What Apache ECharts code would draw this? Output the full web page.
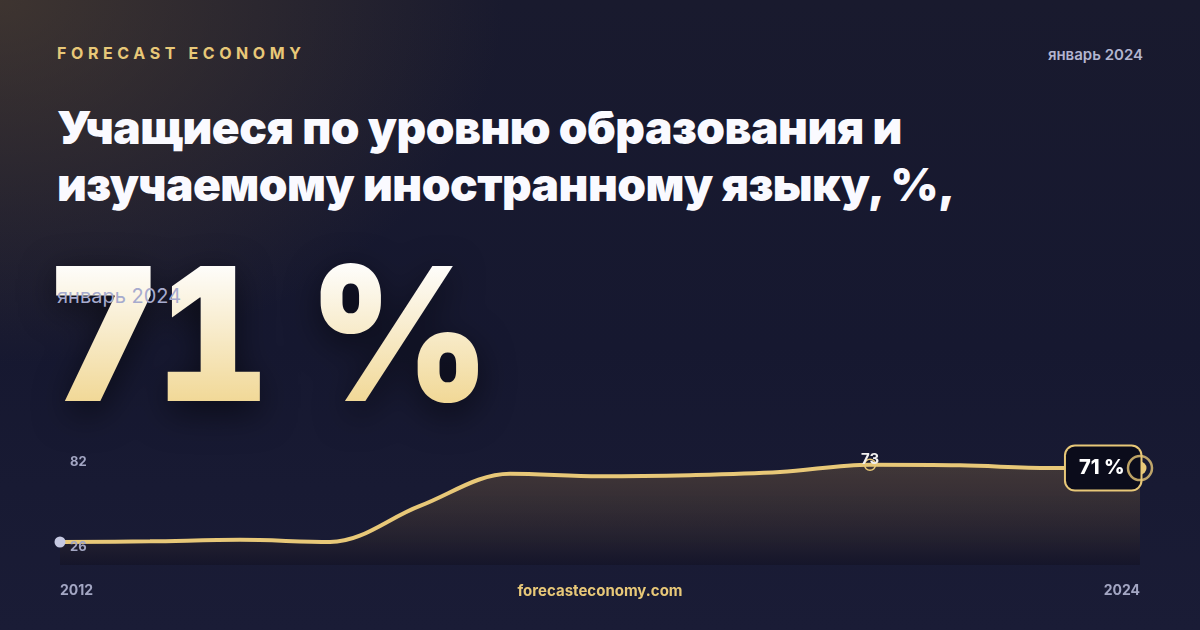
<!DOCTYPE html>
<html lang="ru">
<head>
<meta charset="utf-8">
<title>Учащиеся по уровню образования и изучаемому иностранному языку</title>
<script src="https://cdn.jsdelivr.net/npm/echarts@6.0.0/dist/echarts.min.js"></script>
<style>
  html, body { margin: 0; padding: 0; }
  body { width: 1200px; height: 630px; overflow: hidden; font-family: Inter, 'Noto Sans', sans-serif; }
  .card {
    position: relative; width: 1200px; height: 630px; overflow: hidden;
    background:
      radial-gradient(ellipse 720px 520px at 0px 0px, rgba(92,74,50,.55), rgba(92,74,50,0) 70%),
      linear-gradient(180deg, #191a2e 0%, #161830 55%, #1a1c36 100%);
  }
  .brand { position: absolute; left: 57px; top: 43px; color: #e8c878; font-size: 16px; font-weight: 700; letter-spacing: 4.6px; }
  .date-top { position: absolute; right: 57px; top: 45px; color: #b3b5cf; font-size: 15px; font-weight: 600; }
  .title { position: absolute; left: 57px; top: 99px; color: #fafaff; font-size: 46px; font-weight: 900; line-height: 57px; letter-spacing: -0.5px; }
  .big {
    position: absolute; left: 47px; top: 219px; font-size: 186px; font-weight: 900; line-height: 230px; letter-spacing: -4px;
    font-variant-numeric: tabular-nums; font-feature-settings: 'tnum' 1;
    transform: scaleX(0.94); transform-origin: 0 0; white-space: nowrap;
    background: linear-gradient(180deg, #fefdfb 20%, #f1d896 80%);
    -webkit-background-clip: text; background-clip: text; color: transparent;
    filter: drop-shadow(0 10px 18px rgba(0,0,0,.55));
  }
  .big-date { position: absolute; left: 57px; top: 284px; color: #a7abce; font-size: 20px; font-weight: 400; }
  #chart { position: absolute; left: 0; top: 0; width: 1200px; height: 630px; }
</style>
</head>
<body>
<div class="card">
  <div class="brand">FORECAST ECONOMY</div>
  <div class="date-top">январь 2024</div>
  <div class="title">Учащиеся по уровню образования и<br>изучаемому иностранному языку, %,</div>
  <div class="big">71&nbsp;%</div>
  <div class="big-date">январь 2024</div>
  <div id="chart"></div>
</div>
<script>
// данные с картинки (значения оценены по пикселям)
const years = ['2012', '2013', '2014', '2015', '2016', '2017', '2018', '2019', '2020', '2021', '2022', '2023', '2024'];
const values = [26, 26.4, 27.3, 26, 48, 67.5, 66, 66.7, 68.6, 73, 72.7, 71, 71];
const yMin = 12;
const yMax = 82;
const yTickLabels = ['82', '26'];
const peakIndex = 9;
const footerText = 'forecasteconomy.com';

const GOLD = '#e8c878';
const MUTED = '#a3a6c3';
const FONT = 'Inter, "Noto Sans", sans-serif';
const last = values.length - 1;

const chart = echarts.init(document.getElementById('chart'), null, { renderer: 'canvas' });

const lineData = values.map((v, i) => {
  if (i === 0) return { value: v, symbol: 'circle', symbolSize: 11, itemStyle: { color: '#c6c9e2', borderWidth: 0 } };
  if (i === peakIndex) return {
    value: v, symbol: 'circle', symbolSize: 11,
    itemStyle: { color: 'rgba(0,0,0,0)', borderColor: GOLD, borderWidth: 1.5 },
    label: { show: true, position: 'inside', offset: [0, -5], formatter: '{c}', color: '#f3f1f0', fontFamily: FONT, fontWeight: 700, fontSize: 15 },
  };
  if (i === last) return {
    value: v, symbol: 'circle', symbolSize: 13, itemStyle: { color: GOLD, borderWidth: 0 },
    label: {
      show: true, position: 'left', distance: -7, formatter: (p) => p.value + ' %',
      color: '#ffffff', fontFamily: FONT, fontWeight: 800, fontSize: 20,
      backgroundColor: '#0b0c1b', borderColor: GOLD, borderWidth: 2, borderRadius: 9,
      padding: [12, 16, 11, 13],
    },
  };
  return { value: v, symbol: 'none' };
});

chart.setOption({
  backgroundColor: 'transparent',
  animation: false,
  grid: { left: 60, right: 60, top: 450, height: 115 },
  xAxis: {
    type: 'category', data: years, boundaryGap: false,
    axisLine: { show: false }, axisTick: { show: false }, splitLine: { show: false },
    axisLabel: {
      margin: 19, color: MUTED, fontFamily: FONT, fontWeight: 700, fontSize: 14,
      interval: (i) => i === 0 || i === years.length - 1,
      alignMinLabel: 'left', alignMaxLabel: 'right',
    },
  },
  yAxis: { type: 'value', min: yMin, max: yMax, show: false, splitLine: { show: false } },
  series: [
    {
      type: 'line', data: lineData, smooth: 0.35, showSymbol: true, z: 3,
      lineStyle: { color: GOLD, width: 4 },
      areaStyle: {
        origin: 'start',
        color: new echarts.graphic.LinearGradient(0, 0, 0, 1, [
          { offset: 0, color: 'rgba(205,155,75,0.32)' },
          { offset: 1, color: 'rgba(12,10,22,0.45)' },
        ]),
      },
      emphasis: { disabled: true },
    },
    {
      type: 'scatter', z: 4, silent: true,
      data: [[years[last], values[last]]],
      symbol: 'circle', symbolSize: 24,
      itemStyle: { color: 'rgba(0,0,0,0)', borderColor: GOLD, borderWidth: 2.5 },
    },
  ],
});

// подписи шкалы и футер
const yTop = chart.convertToPixel({ yAxisIndex: 0 }, Number(yTickLabels[0]));
const yLow = chart.convertToPixel({ yAxisIndex: 0 }, Number(yTickLabels[1]));
chart.setOption({
  graphic: [
    { type: 'text', left: 70, top: yTop + 6, style: { text: yTickLabels[0], fill: MUTED, font: '700 13px ' + FONT } },
    { type: 'text', left: 70, top: yLow - 1, z: 10, style: { text: yTickLabels[1], fill: MUTED, font: '700 13px ' + FONT } },
    { type: 'text', x: 600, y: 591, style: { text: footerText, fill: GOLD, font: '700 15px ' + FONT, align: 'center', verticalAlign: 'middle' } },
  ],
});
</script>
</body>
</html>
